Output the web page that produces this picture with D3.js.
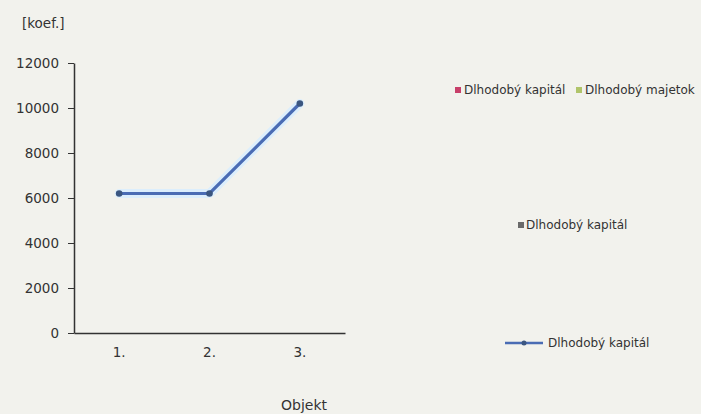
<!DOCTYPE html>
<html><head><meta charset="utf-8">
<script src="https://cdn.jsdelivr.net/npm/d3@7"></script>
<style>
html,body{margin:0;padding:0;background:#f2f2ed;}
text{font-family:"DejaVu Sans",Verdana,sans-serif;fill:#333;}
</style></head>
<body>
<svg id="c" width="701" height="414"></svg>
<script>
const categories = ["1.", "2.", "3."];
const values = [6200, 6200, 10200];
const yTicks = [0, 2000, 4000, 6000, 8000, 10000, 12000];
const legendTop = [
  {label: "Dlhodobý kapitál", color: "#c8406a"},
  {label: "Dlhodobý majetok", color: "#b0c46a"}
];
const legendMid = [{label: "Dlhodobý kapitál", color: "#6a6a6a"}];
const legendLine = [{label: "Dlhodobý kapitál", color: "#4a6cb4"}];
const yTitle = "[koef.]";
const xTitle = "Objekt";

const svg = d3.select("#c");
svg.append("rect").attr("width",701).attr("height",414).attr("fill","#f2f2ed");

const x = d3.scaleBand().domain(categories).range([74, 345]);
const y = d3.scaleLinear().domain([0, 12000]).range([333, 63]);

const yAxis = svg.append("g").attr("transform","translate(74,0)")
  .call(d3.axisLeft(y).tickValues(yTicks).tickFormat(d3.format("d")).tickSize(6).tickPadding(9).tickSizeOuter(0));
yAxis.select(".domain").attr("stroke","#333").attr("stroke-width",1.5);
yAxis.selectAll(".tick line").attr("stroke","#333");
yAxis.selectAll("text").style("font-size","13.5px").attr("fill","#333");

const xAxis = svg.append("g").attr("transform","translate(0,333)")
  .call(d3.axisBottom(x).tickSize(0).tickPadding(14).tickSizeOuter(0));
xAxis.select(".domain").attr("stroke","#333").attr("stroke-width",1.5);
xAxis.selectAll("text").style("font-size","13.5px").attr("fill","#333");

const line = d3.line().x((d,i)=>x(categories[i])+x.bandwidth()/2).y(d=>y(d));
svg.append("path").datum(values).attr("d",line).attr("fill","none")
  .attr("stroke","#dceefc").attr("stroke-width",9).attr("stroke-linejoin","round").attr("stroke-linecap","round");
svg.append("path").datum(values).attr("d",line).attr("fill","none")
  .attr("stroke","#4a6cb4").attr("stroke-width",3.2);
svg.selectAll(".pt").data(values).enter().append("circle")
  .attr("cx",(d,i)=>x(categories[i])+x.bandwidth()/2).attr("cy",d=>y(d))
  .attr("r",3.3).attr("fill","#3b5680");

svg.append("text").attr("x",22).attr("y",28).style("font-size","13.5px").text(yTitle);
svg.append("text").attr("x",304).attr("y",410).attr("text-anchor","middle").style("font-size","14px").text(xTitle);

// legends
const lgFont = "12px";
const topX = [455, 576];
legendTop.forEach((d,i)=>{
  const g = svg.append("g").attr("transform",`translate(${topX[i]},90)`);
  g.append("rect").attr("x",0).attr("y",-3).attr("width",6).attr("height",6).attr("fill",d.color);
  g.append("text").attr("x",9).attr("y",4).style("font-size",lgFont).text(d.label);
});
legendMid.forEach(d=>{
  const g = svg.append("g").attr("transform","translate(518,225)");
  g.append("rect").attr("x",0).attr("y",-3).attr("width",6).attr("height",6).attr("fill",d.color);
  g.append("text").attr("x",8).attr("y",4).style("font-size",lgFont).text(d.label);
});
legendLine.forEach(d=>{
  const g = svg.append("g").attr("transform","translate(505,343)");
  g.append("line").attr("x1",0).attr("x2",38).attr("y1",0).attr("y2",0).attr("stroke",d.color).attr("stroke-width",2.5);
  g.append("circle").attr("cx",19).attr("cy",0).attr("r",2.5).attr("fill","#3b5680");
  g.append("text").attr("x",43).attr("y",4).style("font-size",lgFont).text(d.label);
});
</script>
</body></html>
